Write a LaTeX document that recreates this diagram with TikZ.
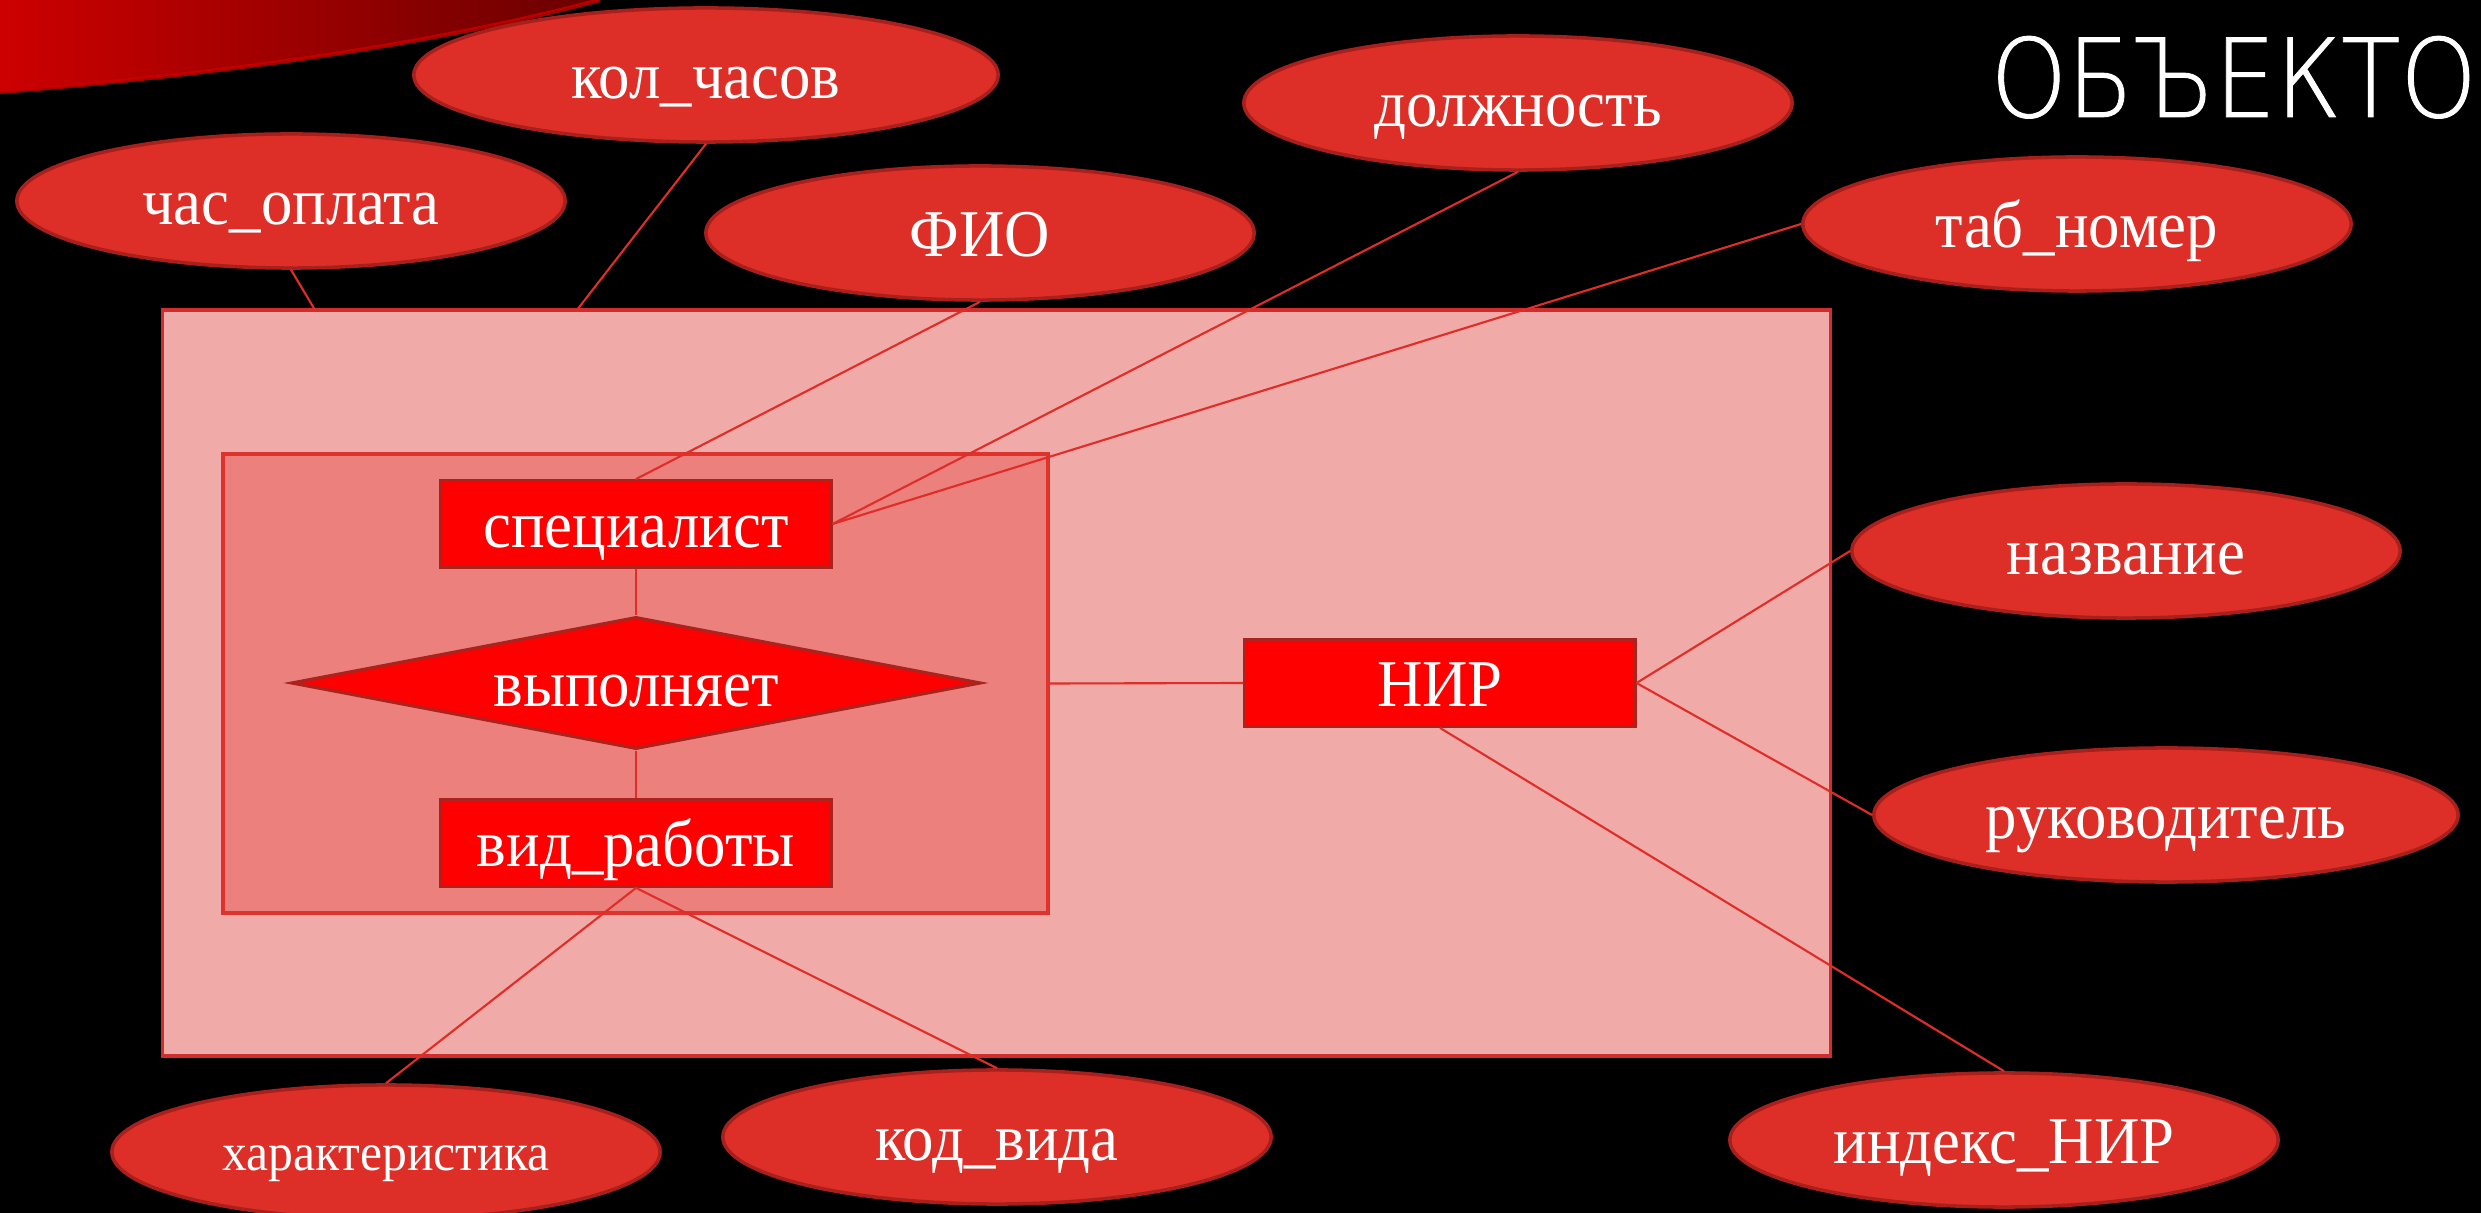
\documentclass[tikz,border=0pt]{standalone}
\usepackage{fontspec}
\setmainfont[FakeStretch=0.94]{Liberation Serif}
\newfontfamily\titlefont[FakeStretch=0.89,FakeBold=0.8]{DejaVu Sans ExtraLight}
\usetikzlibrary{shapes.geometric,calc}
\definecolor{ellfill}{RGB}{222,46,40}
\definecolor{ellborder}{RGB}{168,32,28}
\definecolor{bigfill}{RGB}{240,170,168}
\definecolor{bigborder}{RGB}{210,45,45}
\definecolor{innerfill}{RGB}{236,128,125}
\definecolor{innerborder}{RGB}{222,50,45}
\definecolor{boxfill}{RGB}{255,0,0}
\definecolor{boxborder}{RGB}{170,35,30}
\definecolor{linecol}{RGB}{225,45,40}
\definecolor{swooshA}{RGB}{205,0,0}
\definecolor{swooshB}{RGB}{105,0,0}
\begin{document}
\begin{tikzpicture}[x=0.01cm,y=-0.01cm,
  attr/.style={ellipse,fill=ellfill,draw=ellborder,line width=1pt,inner sep=0pt,
    minimum width=5.48cm,minimum height=1.34cm,text=white,font=\fontsize{19}{22}\selectfont,
    text height=0.46cm,text depth=0pt},
  entbox/.style={rectangle,fill=boxfill,draw=boxborder,line width=0.8pt,inner sep=0pt,
    minimum width=3.9cm,minimum height=0.87cm,text=white,font=\fontsize{19}{22}\selectfont,
    text height=0.46cm,text depth=0pt},
  relshape/.style={diamond,aspect=5.2,fill=boxfill,draw=boxborder,line width=0.9pt,inner sep=0pt,
    minimum width=6.89cm,minimum height=1.32cm,text=white,font=\fontsize{19}{22}\selectfont,
    text height=0.47cm,text depth=0pt},
  conn/.style={draw=linecol,line width=0.6pt}]
\fill[black] (0,0) rectangle (2481,1213);
\useasboundingbox (0,0) rectangle (2481,1213);
% decorative swoosh
\shade[left color=swooshA,right color=swooshB] (0,0) -- (600,0) .. controls (450,40) and (250,72) .. (0,92) -- cycle;
\draw[red!80!black,line width=1.2pt,opacity=0.8] (600,0) .. controls (450,40) and (250,72) .. (0,92);
% title
\node[anchor=base west,inner sep=0pt,text=white,font=\titlefont\fontsize{31}{31}\selectfont] (title) at (1990,117) {ОБЪЕКТО};
% containers
\node[rectangle,fill=bigfill,draw=bigborder,line width=1pt,minimum width=16.67cm,minimum height=7.46cm,inner sep=0pt] (big) at (996.5,683) {};
\node[rectangle,fill=innerfill,draw=innerborder,line width=1pt,minimum width=8.25cm,minimum height=4.59cm,inner sep=0pt] (inner) at (635.5,683.5) {};
% attributes
\node[attr] (opl) at (291,201) {час\_оплата};
\node[attr,minimum width=5.84cm] (kol) at (706,75) {кол\_часов};
\node[attr] (fio) at (980,233) {ФИО};
\node[attr] (dol) at (1518,103) {должность};
\node[attr] (tab) at (2077,224) {таб\_номер};
\node[attr] (naz) at (2126,551) {название};
\node[attr,minimum width=5.84cm] (ruk) at (2166,815) {руководитель};
\node[attr] (idx) at (2004,1140) {индекс\_НИР};
\node[attr] (kod) at (997,1137) {код\_вида};
\node[attr,font=\fontsize{15}{18}\selectfont,text height=0.36cm] (har) at (386,1152) {характеристика};
% entities and relationship
\node[entbox] (spec) at (636,524) {специалист};
\node[relshape] (rel) at (636,683) {выполняет};
\node[entbox] (vid) at (636,843) {вид\_работы};
\node[entbox] (nir) at (1440,683) {НИР};
% free ends on the top edge of the big container
\coordinate (t1) at (315,310);
\coordinate (t2) at (577,310);
% connectors
\draw[conn] (opl.south) -- (t1);
\draw[conn] (kol.south) -- (t2);
\draw[conn] (fio.south) -- (spec.north);
\draw[conn] (dol.south) -- (spec.east);
\draw[conn] (tab.west) -- (spec.east);
\draw[conn] (spec.south) -- (rel.north);
\draw[conn] (rel.south) -- (vid.north);
\draw[conn] (inner.east) -- (nir.west);
\draw[conn] (nir.east) -- (naz.west);
\draw[conn] (nir.east) -- (ruk.west);
\draw[conn] (nir.south) -- (idx.north);
\draw[conn] (vid.south) -- (har.north);
\draw[conn] (vid.south) -- (kod.north);
\end{tikzpicture}
\end{document}
